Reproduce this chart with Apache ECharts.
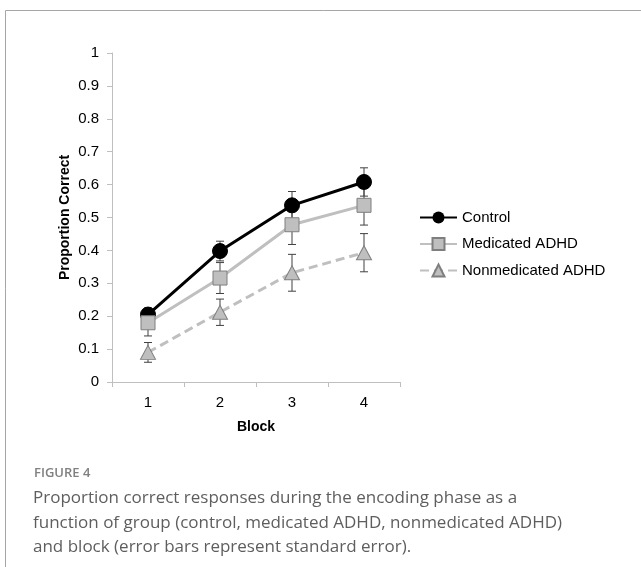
<!DOCTYPE html>
<html>
<head>
<meta charset="utf-8">
<script src="https://cdn.jsdelivr.net/npm/echarts@6/dist/echarts.min.js"></script>
<style>
  html, body { margin: 0; padding: 0; background: #fff; }
  #chart { width: 641px; height: 567px; }
</style>
</head>
<body>
<div id="chart"></div>
<script>
var blocks = ['1', '2', '3', '4'];
var yTicks = [0, 0.1, 0.2, 0.3, 0.4, 0.5, 0.6, 0.7, 0.8, 0.9, 1];

var control = [0.205, 0.398, 0.537, 0.608];
var controlErr = [0.02, 0.03, 0.042, 0.043];
var medicated = [0.18, 0.316, 0.478, 0.537];
var medicatedErr = [0.04, 0.047, 0.06, 0.06];
var nonmedicated = [0.09, 0.212, 0.332, 0.393];
var nonmedicatedErr = [0.03, 0.04, 0.056, 0.058];

var font = '"Liberation Sans", "Noto Sans", sans-serif';

// [index, low, high] for the error bar series
function errData(vals, errs) {
    return vals.map(function(v, i) {
        return [i, v - errs[i], v + errs[i]];
    });
}

function renderErr(params, api) {
    var lo = api.coord([api.value(0), api.value(1)]);
    var hi = api.coord([api.value(0), api.value(2)]);
    var w = 4;
    var st = { stroke: '#404040', lineWidth: 1 };
    return {
        type: 'group',
        children: [
            { type: 'line', shape: { x1: lo[0], y1: lo[1], x2: hi[0], y2: hi[1] }, style: st },
            { type: 'line', shape: { x1: lo[0] - w, y1: lo[1], x2: lo[0] + w, y2: lo[1] }, style: st },
            { type: 'line', shape: { x1: hi[0] - w, y1: hi[1], x2: hi[0] + w, y2: hi[1] }, style: st }
        ]
    };
}

var chart = echarts.init(document.getElementById('chart'));

var option = {
    backgroundColor: '#fff',
    animation: false,
    textStyle: { fontFamily: font },
    grid: { left: 112, right: 241, top: 53, bottom: 185, containLabel: false },
    legend: {
        orient: 'vertical',
        left: 419,
        top: 210,
        padding: 0,
        itemWidth: 37,
        itemHeight: 15,
        itemGap: 11.5,
        textStyle: { fontSize: 15, color: '#000', fontFamily: font },
        data: ['Control', 'Medicated ADHD', 'Nonmedicated ADHD']
    },
    xAxis: {
        type: 'category',
        data: blocks,
        name: 'Block',
        nameLocation: 'middle',
        nameGap: 38,
        nameTextStyle: { fontWeight: 'bold', fontSize: 14, color: '#000', fontFamily: font },
        axisLine: { lineStyle: { color: '#bfbfbf', width: 1 } },
        axisTick: { show: true, length: 5, lineStyle: { color: '#bfbfbf' } },
        axisLabel: { fontSize: 15, color: '#000', margin: 13 },
        splitLine: { show: false }
    },
    yAxis: {
        type: 'value',
        min: yTicks[0],
        max: yTicks[yTicks.length - 1],
        interval: 0.1,
        name: 'Proportion Correct',
        nameLocation: 'middle',
        nameGap: 40,
        nameTextStyle: { fontWeight: 'bold', fontSize: 14, color: '#000', fontFamily: font },
        axisLine: { show: true, lineStyle: { color: '#bfbfbf', width: 1 } },
        axisTick: { show: true, length: 5, lineStyle: { color: '#bfbfbf' } },
        axisLabel: {
            fontSize: 15, color: '#000', margin: 13,
            formatter: function(v) { return String(Math.round(v * 10) / 10); }
        },
        splitLine: { show: false }
    },
    graphic: [
        {
            type: 'polyline',
            shape: { points: [[5.5, 567], [5.5, 10.5], [641, 10.5]] },
            style: { stroke: '#a6a6a6', lineWidth: 1, fill: null }
        },
        {
            type: 'text', left: 34, top: 467,
            style: { text: 'FIGURE 4', fontSize: 13, fontWeight: 600, fill: '#808080', fontFamily: '"Open Sans", sans-serif' }
        },
        {
            type: 'text', left: 33, top: 486,
            style: {
                text: 'Proportion correct responses during the encoding phase as a\nfunction of group (control, medicated ADHD, nonmedicated ADHD)\nand block (error bars represent standard error).',
                fontSize: 17, lineHeight: 24.5, fill: '#5e5e5e', fontFamily: '"Open Sans", sans-serif'
            }
        }
    ],
    series: [
        {
            name: 'Control',
            type: 'line',
            data: control,
            symbol: 'circle',
            symbolSize: 15,
            z: 3,
            lineStyle: { color: '#000', width: 3 },
            itemStyle: { color: '#000', borderColor: '#000' }
        },
        {
            name: 'Medicated ADHD',
            type: 'line',
            data: medicated,
            symbol: 'rect',
            symbolSize: 14,
            z: 4,
            lineStyle: { color: '#bfbfbf', width: 3 },
            itemStyle: { color: '#bfbfbf', borderColor: '#7f7f7f', borderWidth: 1 }
        },
        {
            name: 'Nonmedicated ADHD',
            type: 'line',
            data: nonmedicated,
            symbol: 'triangle',
            symbolSize: [15, 14],
            z: 5,
            lineStyle: { color: '#bfbfbf', width: 3, type: [9, 5] },
            itemStyle: { color: '#bfbfbf', borderColor: '#7f7f7f', borderWidth: 1 }
        },
        {
            type: 'custom',
            name: 'err1',
            renderItem: renderErr,
            data: errData(control, controlErr),
            z: 2
        },
        {
            type: 'custom',
            name: 'err2',
            renderItem: renderErr,
            data: errData(medicated, medicatedErr),
            z: 2
        },
        {
            type: 'custom',
            name: 'err3',
            renderItem: renderErr,
            data: errData(nonmedicated, nonmedicatedErr),
            z: 2
        }
    ]
};

chart.setOption(option);
</script>
</body>
</html>
